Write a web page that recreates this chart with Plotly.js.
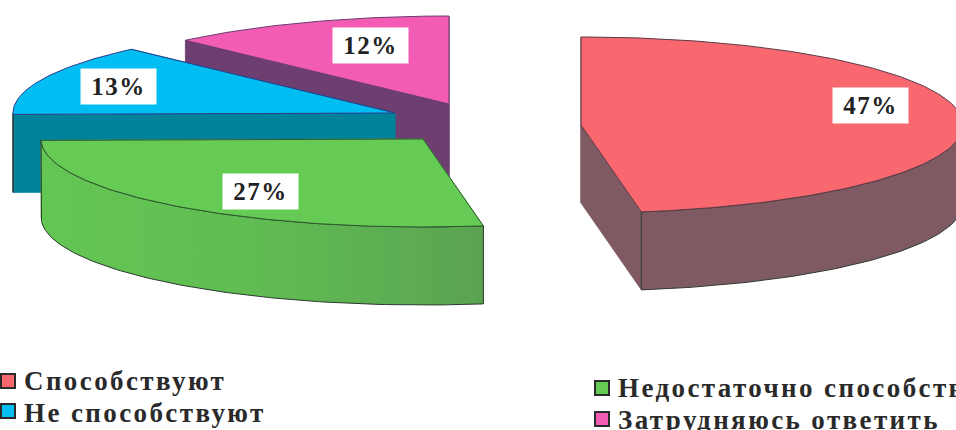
<!DOCTYPE html>
<html>
<head>
<meta charset="utf-8">
<script src="https://cdn.plot.ly/plotly-3.0.1.min.js"></script>
<style>
html,body{margin:0;padding:0;background:#fff;overflow:hidden}
</style>
</head>
<body>
<div id="chart" style="width:956px;height:430px"></div>
<script>
// ---- data ----
const categories = ["Способствуют", "Недостаточно способствуют", "Не способствуют", "Затрудняюсь ответить"];
const values = [47, 27, 13, 12];
const labels = ["47%", "27%", "13%", "12%"];

// ---- styling / placement ----
const topColors  = ["#F8686E", "#66CB55", "#00BDF2", "#F25CB4"];
const wallColors = ["#7F5A62", "#5CAF50", "#00829B", "#6E3E70"];
const edgeColors = ["#5a3a48", "#2f5a2f", "#2a3a8a", "#6a3a70"];
const apexX = [581, 423, 395, 449];
const apexY = [125, 139, 113, 104];
const rx = 382, ry = 88, depth = 78;
const labelX = [870, 260.5, 118, 370.5];
const labelY = [105.5, 191, 86, 45.5];
const legendX = [22, 616, 22, 616];
const legendY = [381, 388, 413, 420];
const markerX = [8, 602, 8, 602];
const markerY = [381, 388, 411, 419];
const drawOrder = [3, 2, 1, 0];

const total = values.reduce((a, b) => a + b, 0);
const starts = [];
values.reduce((acc, v, i) => { starts[i] = acc; return acc + v / total * 360; }, 0);

function pt(i, deg, dz) {
  const t = deg * Math.PI / 180;
  return [apexX[i] + rx * Math.sin(t), apexY[i] - ry * Math.cos(t) + (dz || 0)];
}
function arc(i, a, b, dz) {
  const out = [], n = Math.max(2, Math.ceil(Math.abs(b - a)));
  for (let k = 0; k <= n; k++) out.push(pt(i, a + (b - a) * k / n, dz));
  return out;
}
function poly(points, fill, edge, width, gradient) {
  const xs = points.map(p => p[0]), ys = points.map(p => p[1]);
  xs.push(xs[0]); ys.push(ys[0]);
  const tr = {type: "scatter", mode: "lines", x: xs, y: ys, fill: "toself", fillcolor: fill,
    line: {color: edge, width: width}, hoverinfo: "skip", showlegend: false};
  if (gradient) tr.fillgradient = gradient;
  return tr;
}

const traces = [];
drawOrder.forEach(i => {
  const a = starts[i], b = a + values[i] / total * 360;
  const apex = [apexX[i], apexY[i]];
  const apexLow = [apexX[i], apexY[i] + depth];
  // radial side faces, the one further back first
  [a, b].sort((d1, d2) => pt(i, d1)[1] - pt(i, d2)[1]).forEach(d => {
    const p = pt(i, d), q = pt(i, d, depth);
    traces.push(poly([apex, p, q, apexLow], wallColors[i], wallColors[i], 0.8));
  });
  // outer front wall
  const f0 = Math.max(a, 90), f1 = Math.min(b, 270);
  if (f1 > f0) {
    const upper = arc(i, f0, f1, 0), lower = arc(i, f1, f0, depth);
    const grad = i === 1 ? {type: "horizontal", colorscale: [[0, "#63C653"], [0.5, "#60BC52"], [1, "#5BA352"]]} : null;
    traces.push(poly(upper.concat(lower), wallColors[i], "#2c3a30", 1, grad));
  }
  // top surface
  traces.push(poly([apex].concat(arc(i, a, b, 0)), topColors[i], edgeColors[i], 1));
});

// legend swatches
traces.push({type: "scatter", mode: "markers", x: markerX, y: markerY, hoverinfo: "skip", showlegend: false,
  marker: {symbol: "square", size: 14, color: topColors, line: {color: "#2a2a2a", width: 2}}});

const annotations = [];
values.forEach((v, i) => {
  annotations.push({x: labelX[i], y: labelY[i], xref: "x", yref: "y", text: "<b>" + labels[i] + "</b>",
    showarrow: false, bgcolor: "#fff", width: 75, height: 35, align: "center", valign: "middle", borderpad: 0,
    font: {family: "Liberation Serif", size: 25, color: "#222"}});
  annotations.push({x: legendX[i], y: legendY[i], xref: "x", yref: "y", text: "<b>" + categories[i] + "</b>",
    showarrow: false, xanchor: "left", yanchor: "middle", align: "left",
    font: {family: "Liberation Serif", size: 27, color: "#2a2a2a"}});
});

const axis = {visible: false, fixedrange: true, showgrid: false, zeroline: false};
Plotly.newPlot("chart", traces, {
  width: 956, height: 430, margin: {l: 0, r: 0, t: 0, b: 0},
  paper_bgcolor: "#fff", plot_bgcolor: "#fff", showlegend: false,
  xaxis: Object.assign({range: [0, 956]}, axis),
  yaxis: Object.assign({range: [430, 0]}, axis),
  annotations: annotations
}, {staticPlot: true, displayModeBar: false}).then(() => {
  document.querySelectorAll(".annotation-text").forEach(t => {
    t.style.letterSpacing = /[А-Яа-я]/.test(t.textContent) ? "2.4px" : "1.5px";
  });
});
</script>
</body>
</html>
